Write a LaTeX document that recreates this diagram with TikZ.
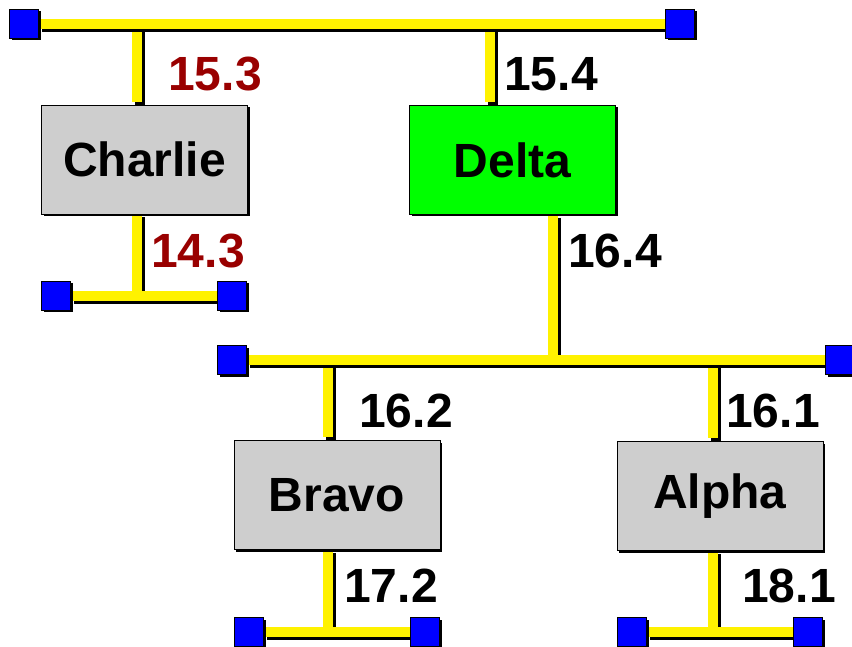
\documentclass[tikz,border=0pt]{standalone}
\usepackage{fontspec}
\setmainfont{Liberation Sans}
\usetikzlibrary{backgrounds}
\definecolor{tagred}{RGB}{153,0,0}
\definecolor{boxgray}{RGB}{206,206,206}

\begin{document}
\begin{tikzpicture}[x=1pt,y=-1pt,font=\bfseries\fontsize{48}{52}\selectfont,
	host/.style={draw=black,line width=0.8pt,fill=boxgray,minimum width=206pt,minimum height=109pt,inner sep=0pt,
		preaction={fill=black,transform canvas={xshift=2pt,yshift=-2pt}}},
	term/.style={draw=black,line width=0.8pt,fill=blue,minimum size=29pt,inner sep=0pt,
		preaction={fill=black,transform canvas={xshift=2pt,yshift=-2pt}}},
	bus/.style={draw=yellow,line width=10.5pt,
		preaction={draw=black,line width=10.5pt,transform canvas={xshift=3pt,yshift=-3pt}}},
	tag/.style={inner sep=0pt}]
		\useasboundingbox (0,0) rectangle (852,647);
		%%% terminators
		\node[term] (topL) at (24,24) {};
		\node[term] (topR) at (680,24) {};
		\node[term] (charL) at (56,296) {};
		\node[term] (charR) at (232,296) {};
		\node[term] (midL) at (232,360) {};
		\node[term] (midR) at (840,360) {};
		\node[term] (bravoL) at (249,632) {};
		\node[term] (bravoR) at (425,632) {};
		\node[term] (alphaL) at (632,632) {};
		\node[term] (alphaR) at (808,632) {};
		%%% hosts
		\node[host] (charlie) at (144.5,159.5) {Charlie};
		\node[host,fill=green] (delta) at (512.5,160) {Delta};
		\node[host] (bravo) at (337,495) {Bravo};
		\node[host] (alpha) at (720,496) {Alpha};
		%%% taps
		\coordinate (tapC) at (137,24);
		\coordinate (tapD) at (490,24);
		\coordinate (tapCb) at (137,296);
		\coordinate (tapM) at (553,360);
		\coordinate (tapB) at (328,360);
		\coordinate (tapA) at (713,360);
		\coordinate (tapBb) at (328,632);
		\coordinate (tapAb) at (713,632);
		%%%
		\begin{pgfonlayer}{background}
		\draw[bus] (tapC) -- ([yshift=3pt]tapC |- charlie.north);
		\draw[bus] (tapD) -- ([yshift=3pt]tapD |- delta.north);
		\draw[bus] (tapCb |- charlie.south) -- (tapCb);
		\draw[bus] (tapM |- delta.south) -- (tapM);
		\draw[bus] (tapB) -- ([yshift=3pt]tapB |- bravo.north);
		\draw[bus] (tapA) -- ([yshift=3pt]tapA |- alpha.north);
		\draw[bus] (tapBb |- bravo.south) -- (tapBb);
		\draw[bus] (tapAb |- alpha.south) -- (tapAb);
		\draw[bus] (topL) -- (topR);
		\draw[bus] (charL) -- (charR);
		\draw[bus] (midL) -- (midR);
		\draw[bus] (bravoL) -- (bravoR);
		\draw[bus] (alphaL) -- (alphaR);
		\end{pgfonlayer}
		%%% costs
		\node[tag,text=tagred] (c153) at (215,74) {15.3};
		\node[tag,text=tagred] (c143) at (198,251) {14.3};
		\node[tag] (c154) at (551,74) {15.4};
		\node[tag] (c164) at (615,251) {16.4};
		\node[tag] (c162) at (406,411) {16.2};
		\node[tag] (c161) at (773,411) {16.1};
		\node[tag] (c172) at (391,586) {17.2};
		\node[tag] (c181) at (789,586) {18.1};
	\end{tikzpicture}
\end{document}
